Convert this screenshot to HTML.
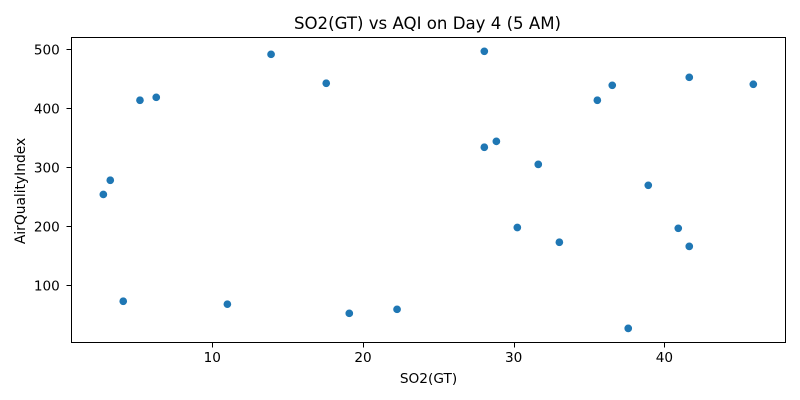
<!DOCTYPE html>
<html lang="en">
<head>
<meta charset="utf-8">
<title>SO2(GT) vs AQI on Day 4 (5 AM)</title>
<style>
html,body{margin:0;padding:0;background:#fff;}
svg{display:block;}
text{font-family:"DejaVu Sans","Liberation Sans",sans-serif;fill:#000;}
</style>
</head>
<body>
<svg id="chart" xmlns="http://www.w3.org/2000/svg" width="800" height="400" viewBox="0 0 800 400">
<rect x="0" y="0" width="800" height="400" fill="#fff"/>
<text x="427.5" y="29" text-anchor="middle" style="font-size:16.6px">SO2(GT) vs AQI on Day 4 (5 AM)</text>
<text x="428.5" y="383" text-anchor="middle" style="font-size:13.7px">SO2(GT)</text>
<text transform="translate(25,191) rotate(-90)" text-anchor="middle" style="font-size:13.8px">AirQualityIndex</text>
<g id="ticks"></g>
<g id="points"></g>
<rect x="71.5" y="37.5" width="714" height="305" fill="none" stroke="#000" stroke-width="1"/>
</svg>
<script>
const so2Values = [2.77,3.23,5.2,6.28,13.9,17.56,28.05,36.54,35.55,41.65,45.9,28.05,28.85,31.63,38.93,30.24,33.03,40.92,41.65,37.6,4.09,11,19.09,22.26];
const aqiValues = [254,278,413.6,418.6,491.5,442.4,496.6,439,413.6,452.5,440.7,334,344,305,269.5,198,173,196.6,166,27,73,68,52.5,59.3];
const xTickValues = [10,20,30,40];
const yTickValues = [100,200,300,400,500];

const NS = 'http://www.w3.org/2000/svg';
function xScale(v){ return 212.3 + (v - 10) * 15.07; }
function yScale(v){ return 285.3 - (v - 100) * 0.59; }

const tickGroup = document.getElementById('ticks');
const pointGroup = document.getElementById('points');

xTickValues.forEach(function(t){
  const px = Math.round(xScale(t)) + 0.5;
  const line = document.createElementNS(NS, 'line');
  
  
  line.setAttribute('x1', px);
  line.setAttribute('x2', px);
  line.setAttribute('y1', 342.5);
  line.setAttribute('y2', 347.5);
  line.setAttribute('stroke', '#000');
  line.setAttribute('stroke-width', 1);
  tickGroup.appendChild(line);
  const label = document.createElementNS(NS, 'text');
  
  
  label.setAttribute('x', xScale(t));
  label.setAttribute('y', 362);
  label.setAttribute('text-anchor', 'middle');
  label.style.fontSize = '13.6px';
  label.textContent = t;
  tickGroup.appendChild(label);
});

yTickValues.forEach(function(t){
  const py = Math.round(yScale(t)) + 0.5;
  const line = document.createElementNS(NS, 'line');
  
  
  line.setAttribute('x1', 66.5);
  line.setAttribute('x2', 71.5);
  line.setAttribute('y1', py);
  line.setAttribute('y2', py);
  line.setAttribute('stroke', '#000');
  line.setAttribute('stroke-width', 1);
  tickGroup.appendChild(line);
  const label = document.createElementNS(NS, 'text');
  
  
  label.setAttribute('x', 59.8);
  label.setAttribute('y', yScale(t) + 5);
  label.setAttribute('text-anchor', 'end');
  label.style.fontSize = '13.6px';
  label.textContent = t;
  tickGroup.appendChild(label);
});

so2Values.forEach(function(v, i){
  const dot = document.createElementNS(NS, 'circle');
  
  
  dot.setAttribute('cx', xScale(v));
  dot.setAttribute('cy', yScale(aqiValues[i]));
  dot.setAttribute('r', 4.2);
  dot.setAttribute('fill', '#1f77b4');
  dot.setAttribute('stroke', '#fff');
  dot.setAttribute('stroke-width', 0.7);
  pointGroup.appendChild(dot);
});
</script>
</body>
</html>
